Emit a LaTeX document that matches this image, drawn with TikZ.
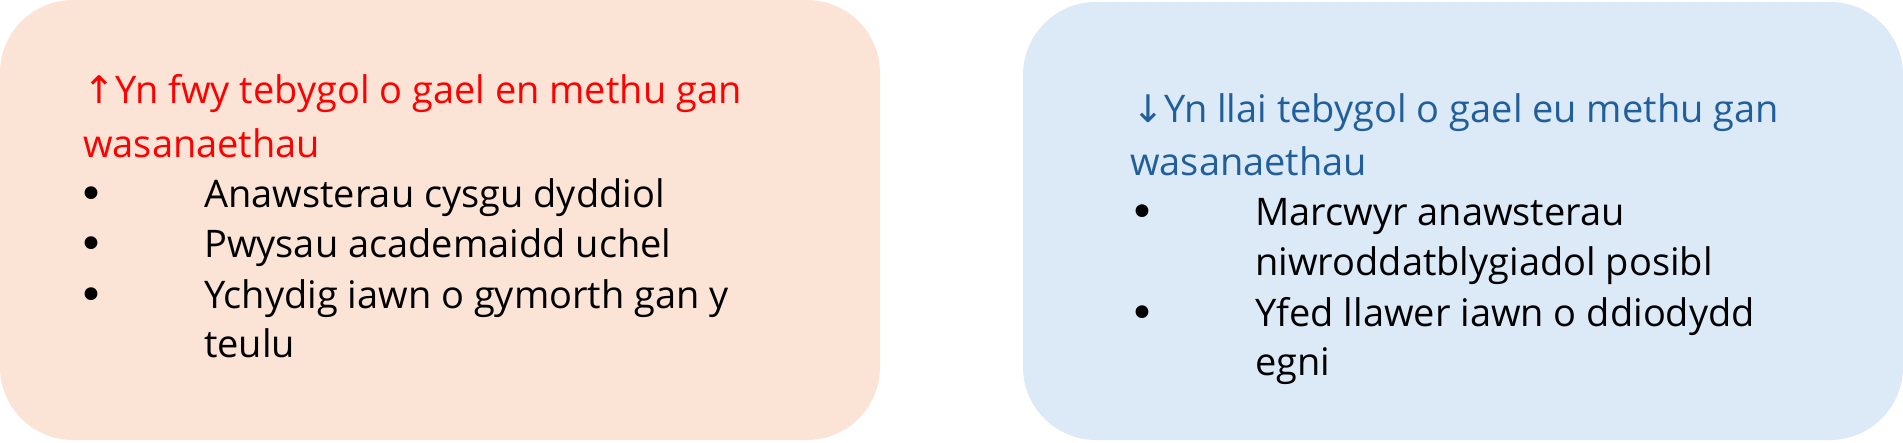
\documentclass[tikz,border=0pt]{standalone}
\usepackage{fontspec}
\setmainfont{Open Sans}
\newfontfamily\symfont{DejaVu Sans}
\definecolor{peach}{HTML}{FBE3D6}
\definecolor{paleblue}{HTML}{DCEAF7}
\definecolor{headblue}{HTML}{215F9A}
\definecolor{headred}{HTML}{FF0000}
\begin{document}
\begin{tikzpicture}[x=1pt,y=-1pt,
  panel/.style={rectangle, rounded corners=73pt, draw=none, inner sep=0pt,
    minimum width=880pt, minimum height=440pt},
  txt/.style={anchor=base west, inner sep=0pt, font=\fontsize{38}{44}\selectfont},
  redtxt/.style={txt, text=headred},
  bluetxt/.style={txt, text=headblue},
  bul/.style={anchor=base west, inner sep=0pt, font=\fontsize{44}{50}\symfont}]
\useasboundingbox (0,0) rectangle (1903,442);
\node[panel, fill=peach] (leftpanel) at (440,220) {};
\node[panel, fill=paleblue, minimum height=438pt] (rightpanel) at (1463,221) {};
% left panel text
\node[redtxt] (lh1) at (83,103) {{\symfont ↑}Yn fwy tebygol o gael en methu gan};
\node[redtxt] (lh2) at (83,157) {wasanaethau};
\node[bul] (lb1) at (78,209) {•};
\node[txt] (lt1) at (204,207) {Anawsterau cysgu dyddiol};
\node[bul] (lb2) at (78,259) {•};
\node[txt] (lt2) at (204,257) {Pwysau academaidd uchel};
\node[bul] (lb3) at (78,310) {•};
\node[txt] (lt3) at (204,308) {Ychydig iawn o gymorth gan y};
\node[txt] (lt3b) at (204,357) {teulu};
% right panel text
\node[bluetxt] (rh1) at (1132,122) {{\symfont ↓}Yn llai tebygol o gael eu methu gan};
\node[bluetxt] (rh2) at (1130,175) {wasanaethau};
\node[bul] (rb1) at (1129,227) {•};
\node[txt] (rt1) at (1255,225) {Marcwyr anawsterau};
\node[txt] (rt1b) at (1255,275) {niwroddatblygiadol posibl};
\node[bul] (rb2) at (1129,328) {•};
\node[txt] (rt2) at (1255,326) {Yfed llawer iawn o ddiodydd};
\node[txt] (rt2b) at (1255,375) {egni};
\end{tikzpicture}
\end{document}
